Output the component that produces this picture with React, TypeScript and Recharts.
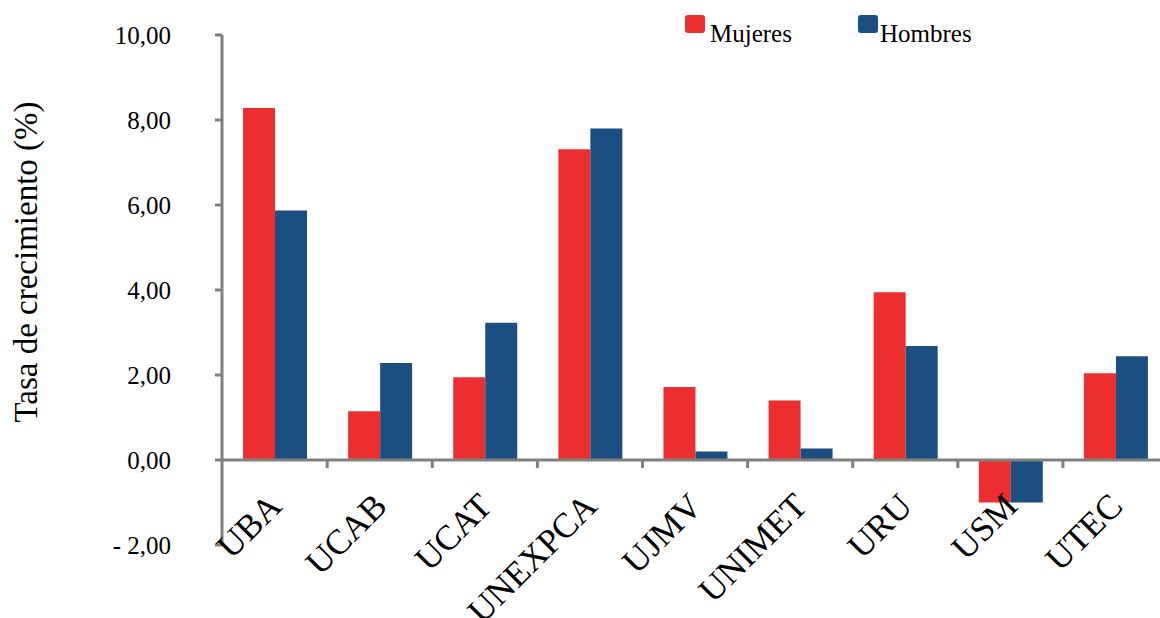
import { Bar, BarChart, Legend, ReferenceLine, XAxis, YAxis } from "recharts";

const categories = ["UBA", "UCAB", "UCAT", "UNEXPCA", "UJMV", "UNIMET", "URU", "USM", "UTEC"];
const mujeres = [8.28, 1.15, 1.95, 7.31, 1.72, 1.4, 3.95, -1.0, 2.04];
const hombres = [5.87, 2.28, 3.23, 7.8, 0.2, 0.27, 2.68, -1.0, 2.44];
const yTicks = [-2, 0, 2, 4, 6, 8, 10];

const data = categories.map((name, i) => ({
  name,
  mujeres: mujeres[i],
  hombres: hombres[i],
}));

const FONT = "'Liberation Serif', 'Times New Roman', serif";
const RED = "#ED2E2F";
const BLUE = "#1B4F81";
const AXIS = "#808080";

// plot geometry
const TOP = 35;
const BOTTOM_Y = 545;
const ZERO_Y = TOP + ((BOTTOM_Y - TOP) * 10) / 12;
const BAND = 105;

const fmt = (v: number) => {
  const s = Math.abs(v).toFixed(2).replace(".", ",");
  return v < 0 ? `- ${s}` : s;
};

function CategoryTick(props: any) {
  const { x, payload, index } = props;
  const tx = x + 9;
  const ty = ZERO_Y + 48;
  return (
    <g>
      {index > 0 && (
        <line
          x1={x - BAND / 2}
          x2={x - BAND / 2}
          y1={ZERO_Y}
          y2={ZERO_Y + 8}
          stroke={AXIS}
          strokeWidth={3}
        />
      )}
      <text
        x={tx}
        y={ty}
        textAnchor="end"
        transform={`rotate(-45, ${tx}, ${ty})`}
        fontFamily={FONT}
        fontSize={35}
        fill="#000"
      >
        {payload.value}
      </text>
    </g>
  );
}

function LegendBox() {
  return (
    <svg width={320} height={50}>
      <rect x={5} y={15} width={20} height={18} rx={3} fill={RED} />
      <text x={30} y={42} fontFamily={FONT} fontSize={25} fill="#000">
        Mujeres
      </text>
      <rect x={178} y={15} width={20} height={18} rx={3} fill={BLUE} />
      <text x={200} y={42} fontFamily={FONT} fontSize={25} fill="#000">
        Hombres
      </text>
    </svg>
  );
}

export default function App() {
  return (
    <div style={{ width: 1160, height: 618, overflow: "hidden", background: "#fff" }}>
      <style>{`body{margin:0}`}</style>
      <BarChart
        width={1168}
        height={618}
        data={data}
        margin={{ top: TOP, right: 0, left: 0, bottom: 0 }}
        barCategoryGap="20%"
        barGap={0}
      >
        <XAxis
          dataKey="name"
          height={618 - BOTTOM_Y}
          axisLine={false}
          tickLine={false}
          interval={0}
          tick={<CategoryTick />}
        />
        <YAxis
          width={222}
          domain={[-2, 10]}
          ticks={yTicks}
          tickFormatter={fmt}
          axisLine={{ stroke: AXIS, strokeWidth: 3 }}
          tickLine={{ stroke: AXIS, strokeWidth: 3 }}
          tickSize={7}
          tickMargin={44}
          tick={{ fontFamily: FONT, fontSize: 25, fill: "#000" }}
          label={{
            value: "Tasa de crecimiento (%)",
            angle: -90,
            position: "insideLeft",
            offset: 25,
            dy: -28,
            style: { fontFamily: FONT, fontSize: 33, fill: "#000", textAnchor: "middle" },
          }}
        />
        <Legend
          verticalAlign="middle"
          layout="horizontal"
          wrapperStyle={{ top: 0, left: 680, width: 320 }}
          content={() => <LegendBox />}
        />
        <Bar dataKey="mujeres" name="Mujeres" fill={RED} isAnimationActive={false} />
        <Bar dataKey="hombres" name="Hombres" fill={BLUE} isAnimationActive={false} />
        <ReferenceLine y={0} stroke={AXIS} strokeWidth={3} />
      </BarChart>
    </div>
  );
}
